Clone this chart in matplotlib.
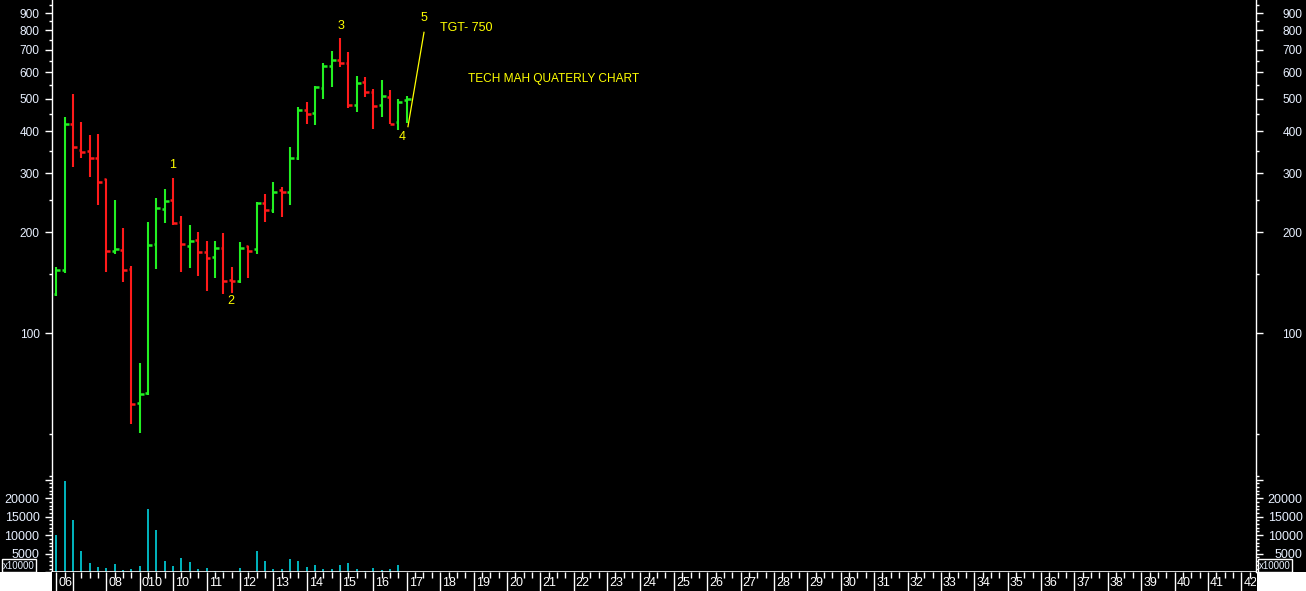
import matplotlib
matplotlib.use('Agg')
import matplotlib.pyplot as plt
from matplotlib.patches import Rectangle
from matplotlib.ticker import NullFormatter
import numpy as np

plt.rcParams['font.family'] = ['Liberation Sans', 'DejaVu Sans']

# ---- quarterly OHLC data (one bar per quarter) ----
opens = [131, 154, 420, 352, 350, 333, 288, 176, 177, 155,
         62.1, 66.3, 184, 234, 250, 214, 182, 190, 175, 169,
         180, 144, 143, 182, 178, 244, 233, 267, 264, 334,
         463, 454, 540, 627, 654, 638, 480, 562, 525, 479,
         507, 427, 496]
highs = [158, 440, 516, 426, 390, 393, 288, 250, 206, 159,
         81.4, 214, 253, 269, 290, 224, 211, 200, 189, 189,
         199, 158, 187, 182.4, 246, 261, 282, 273.5, 359, 472,
         489, 546, 638, 693, 757, 688, 585, 582, 534, 569,
         531, 498, 510]
lows = [129.5, 151.6, 314, 332, 293, 241, 152.6, 172, 142, 53.6,
        50.3, 65.5, 156, 213, 210, 152.6, 157, 148.5, 134, 146,
        131, 132, 141, 146.5, 172, 215, 228, 222.6, 241, 328,
        421.5, 419, 501, 541, 621, 468.5, 457.5, 505, 407, 442,
        420, 404, 424]
closes = [154, 420, 360, 348, 334, 283, 176, 178, 154, 61.4,
          65.9, 183, 236, 248, 213, 184, 189, 175, 168, 180,
          143.5, 143, 180, 176, 244, 233, 264, 264, 334, 463,
          450, 541, 627, 654, 638, 480, 558, 525, 476, 509,
          421, 490, 500]
volumes = [10050, 24600, 14100, 5740, 2500, 1430, 1160, 2240, 620, 890,
           1700, 17060, 11400, 3050, 1700, 3850, 2780, 890, 1160, 350,
           350, 0, 1160, 350, 5740, 3050, 890, 890, 3580, 3050,
           1430, 1970, 890, 890, 1970, 2500, 890, 350, 1160, 620,
           890, 1970, 0]

# ---- axis ticks / labels ----
price_ticks = [100, 200, 300, 400, 500, 600, 700, 800, 900]
price_tick_labels = ['100', '200', '300', '400', '500', '600', '700', '800', '900']
price_minor = [50, 150, 250, 350, 450, 550, 650, 750, 850, 950]
vol_ticks = [0, 5000, 10000, 15000, 20000, 25000]
vol_tick_labels = ['', '5000', '10000', '15000', '20000', '']
vol_minor = [1000, 2000, 3000, 4000, 6000, 7000, 8000, 9000, 11000, 12000,
             13000, 14000, 16000, 17000, 18000, 19000, 21000, 22000, 23000,
             24000, 26000]
sep_bars = [0, 2, 6, 10, 14, 18, 22, 26, 30, 34, 38, 42, 46, 50, 54, 58,
            62, 66, 70, 74, 78, 82, 86, 90, 94, 98, 102, 106, 110, 114,
            118, 122, 126, 130, 134, 138, 142]
sep_labels = ['06', '', '08', '010', '10', '11', '12', '13', '14', '15',
              '16', '17', '18', '19', '20', '21', '22', '23', '24', '25',
              '26', '27', '28', '29', '30', '31', '32', '33', '34', '35',
              '36', '37', '38', '39', '40', '41', '42']
n_slots = 144

# ---- annotations ----
wave_x = [42.14, 44.06]
wave_y = [413, 789]
wave_labels = ['1', '2', '3', '4', '5']
wave_label_x = [13.9, 20.9, 34.1, 41.4, 44.1]
wave_label_y = [317.5, 125, 826, 385.5, 869]
tgt_text = 'TGT- 750'
tgt_pos = (46.0, 814.5)
title_text = 'TECH MAH QUATERLY CHART'
title_pos = (49.3, 571.5)

GREEN = '#22f022'
RED = '#ff1a1a'
CYAN = '#00e6f2'
YELLOW = '#ffff00'
LBL = '#e8f0ff'

W, H = 1306, 591
fig = plt.figure(figsize=(W / 100, H / 100), dpi=100, facecolor='black')
L = 52 / W
Wd = (1256 - 52) / W
XLIM = (-0.515, 143.76)

ax = fig.add_axes([L, (H - 472) / H, Wd, 472 / H], facecolor='black')
axv = fig.add_axes([L, (H - 572.3) / H, Wd, (572.3 - 473) / H], facecolor='black')
axs = fig.add_axes([L, 0, Wd, (H - 572.3) / H], facecolor='black')

x = np.arange(len(opens))
cols = [GREEN if c >= o else RED for o, c in zip(opens, closes)]

# price bars
ax.vlines(x, lows, highs, colors=cols, lw=1.5)
ax.hlines(opens, x - 0.32, x, colors=cols, lw=1.8)
ax.hlines(closes, x, x + 0.47, colors=cols, lw=1.8)
ax.plot(wave_x, wave_y, color=YELLOW, lw=0.9)
for t, tx, ty in zip(wave_labels, wave_label_x, wave_label_y):
    ax.text(tx, ty, t, color=YELLOW, fontsize=9, ha='center', va='center')
ax.text(tgt_pos[0], tgt_pos[1], tgt_text, color=YELLOW, fontsize=9, ha='left', va='center')
ax.text(title_pos[0], title_pos[1], title_text, color=YELLOW, fontsize=8.6, ha='left', va='center')

ax.set_yscale('log')
ax.set_xlim(XLIM)
ax.set_ylim(38.6, 985)


def style_yaxes(a, side, major, labels, minor, pad, size):
    a.set_yticks(major, labels=labels)
    a.set_yticks(minor, minor=True)
    a.yaxis.set_minor_formatter(NullFormatter())
    for s in a.spines.values():
        s.set_visible(False)
    a.spines[side].set_visible(True)
    a.spines[side].set_color('white')
    a.spines[side].set_linewidth(1.0)
    if side == 'left':
        a.tick_params(axis='y', which='both', left=True, right=False,
                      labelleft=True, labelright=False, colors='white',
                      labelcolor=LBL, width=1, direction='out')
    else:
        a.tick_params(axis='y', which='both', left=False, right=True,
                      labelleft=False, labelright=True, colors='white',
                      labelcolor=LBL, width=1, direction='out')
    a.tick_params(axis='y', which='major', length=5.2, pad=pad, labelsize=size)
    a.tick_params(axis='y', which='minor', length=2.5)
    a.tick_params(axis='x', which='both', bottom=False, top=False,
                  labelbottom=False, labeltop=False)
    if side == 'right':
        for lb in a.get_yticklabels():
            lb.set_horizontalalignment('right')


style_yaxes(ax, 'left', price_ticks, price_tick_labels, price_minor, 3.7, 8.6)
axr = ax.twinx()
axr.set_yscale('log')
axr.set_ylim(ax.get_ylim())
style_yaxes(axr, 'right', price_ticks, price_tick_labels, price_minor, 28.2, 8.6)

# volume
axv.vlines(x, 0, volumes, colors=CYAN, lw=1.1)
axv.set_xlim(XLIM)
axv.set_ylim(0, 26765)
style_yaxes(axv, 'left', vol_ticks, vol_tick_labels, vol_minor, 3.8, 9)
axv.spines['bottom'].set_visible(True)
axv.spines['bottom'].set_color('white')
axv.spines['bottom'].set_linewidth(1.2)
axvr = axv.twinx()
axvr.set_ylim(axv.get_ylim())
style_yaxes(axvr, 'right', vol_ticks, vol_tick_labels, vol_minor, 28.4, 9)

# x label strip
axs.set_xlim(XLIM)
axs.set_ylim(0, 1)
for s in axs.spines.values():
    s.set_visible(False)
axs.set_xticks([])
axs.set_yticks([])
axs.vlines(sep_bars, 0, 1, colors='white', lw=1.0)
short = [b for b in range(n_slots) if b not in sep_bars]
axs.vlines(short, 0.72, 1, colors='white', lw=1.0)
for b, t in zip(sep_bars, sep_labels):
    if t:
        axs.text(b + 0.25, 0.42, t, color='white', fontsize=9,
                 ha='left', va='center', clip_on=True)

# white corners and x10000 boxes
fig.patches.append(Rectangle((0, 0), 52 / W, (H - 572.3) / H, transform=fig.transFigure,
                             facecolor='white', edgecolor='none', zorder=5))
fig.patches.append(Rectangle((1256.5 / W, 0), 50 / W, (H - 572.3) / H, transform=fig.transFigure,
                             facecolor='white', edgecolor='none', zorder=5))
for bx in (2.3, 1258.3):
    fig.patches.append(Rectangle((bx / W, (H - 572.3) / H), 33.5 / W, 13.3 / H,
                                 transform=fig.transFigure, facecolor='black',
                                 edgecolor='white', lw=1.0, zorder=6))
    fig.text((bx + 16.75) / W, (H - 565.7) / H, 'x10000', color=LBL, fontsize=7,
             ha='center', va='center', zorder=7)

fig.savefig('out.png', dpi=100, facecolor='black')
